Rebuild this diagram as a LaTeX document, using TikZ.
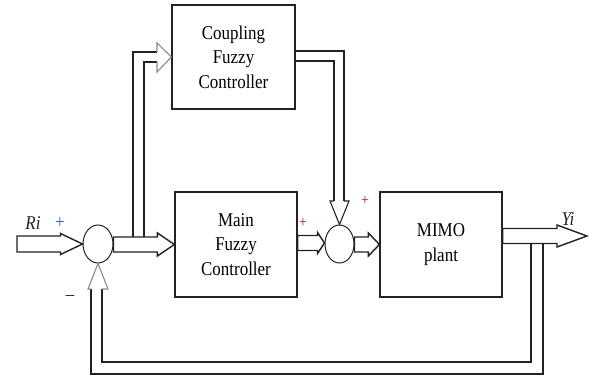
\documentclass[tikz,border=0pt]{standalone}
\usepackage{fontspec}
\setmainfont{Liberation Serif}
\newfontfamily\boxfont[FakeStretch=0.87]{Liberation Serif}
\usetikzlibrary{shapes.geometric,calc}
\definecolor{ink}{HTML}{222222}
\definecolor{headgray}{HTML}{8A8A8A}
\definecolor{plusblue}{HTML}{2A62B8}
\definecolor{plusred}{HTML}{8A2A2A}
\tikzset{
  blockbox/.style={draw=ink, line width=1.2pt, fill=white, inner sep=0pt,
    align=center, font=\boxfont\fontsize{19.5}{24.5}\selectfont},
  sumnode/.style={ellipse, draw=ink, line width=1pt, inner sep=0pt,
    minimum width=30pt, minimum height=38pt},
  barrow/.style={draw=ink, line width=1.4pt, fill=white, line join=miter},
  dline/.style={draw=ink, line width=1.1pt},
  gline/.style={draw=headgray, line width=1.1pt, line join=miter},
  lbl/.style={inner sep=0pt, font=\boxfont\fontsize{19.5}{22}\selectfont},
  smallplus/.style={inner sep=0pt, text=plusred, font=\boxfont\fontsize{16}{18}\selectfont}
}
\newcommand\harrow[5]{\draw[barrow] let \p1=(#1), \p2=(#2) in
  (\x1,\y2-#3) -- (\x2-#5,\y2-#3) -- (\x2-#5,\y2-#4) -- (\x2,\y2) --
  (\x2-#5,\y2+#4) -- (\x2-#5,\y2+#3) -- (\x1,\y2+#3) -- cycle;}
\begin{document}
\begin{tikzpicture}[x=1pt,y=-1pt]
\useasboundingbox (0,0) rectangle (597,377);
% blocks
\node[blockbox, minimum width=123pt, minimum height=104pt] (coup) at (233.5,57) {Coupling\\Fuzzy\\Controller};
\node[blockbox, minimum width=122pt, minimum height=105pt] (main) at (236,244.5) {Main\\Fuzzy\\Controller};
\node[blockbox, minimum width=122pt, minimum height=105pt] (plant) at (441,244.5) {MIMO\\plant};
\node[sumnode] (s1) at (98,244) {};
\node[sumnode, minimum width=29pt] (s2) at (339.5,244) {};
% free ends and bends
\coordinate (rin) at (17,244);
\coordinate (yout) at (587,236);
\coordinate (brA) at (133,237);
\coordinate (brB) at (144,237);
\coordinate (fbA) at (531,244);
\coordinate (fbB) at (543,244);
% block arrows
\harrow{rin}{s1.west}{8pt}{10.5pt}{22pt}
\harrow{s1.east}{main.west}{7.5pt}{11.5pt}{17pt}
\harrow{main.east}{$(s2.west)+(0,-1)$}{7.5pt}{10.5pt}{7pt}
\harrow{s2.east}{plant.west}{7.5pt}{11.5pt}{11pt}
\harrow{$(plant.east)+(0,-8.5)$}{yout}{7.5pt}{11pt}{30pt}
% branch to coupling controller
\draw[dline] (brA) |- (157,52);
\draw[dline] (brB) |- (157,62);
\draw[gline] (157,52) -- (157,43) -- (coup.west) -- (157,72) -- (157,62);
% coupling output to second summing point
\draw[dline] ($(coup.east)+(0,-6)$) -| (344,201);
\draw[dline] ($(coup.east)+(0,4)$) -| (334,201);
\draw[dline, line join=miter] (334,201) -- (330,201) -- (s2.north) -- (349,201) -- (344,201);
% feedback
\draw[dline] (fbA) |- (102,362) -- (102,289);
\draw[dline] (fbB) |- (91,374) -- (91,289);
\draw[gline] (102,289) -- (108,289) -- (s1.south) -- (88,289) -- (91,289);
% labels
\node[lbl, text=ink] (lri) at (33,223) {\itshape Ri};
\node[lbl, text=plusblue] (lp1) at (60,223) {+};
\node[lbl, text=ink] (lm1) at (70,298) {\textendash};
\node[smallplus] (lp2) at (303,223) {+};
\node[smallplus] (lp3) at (365,201) {+};
\node[lbl, text=ink] (lyi) at (568,219) {\itshape Yi};
\end{tikzpicture}
\end{document}
